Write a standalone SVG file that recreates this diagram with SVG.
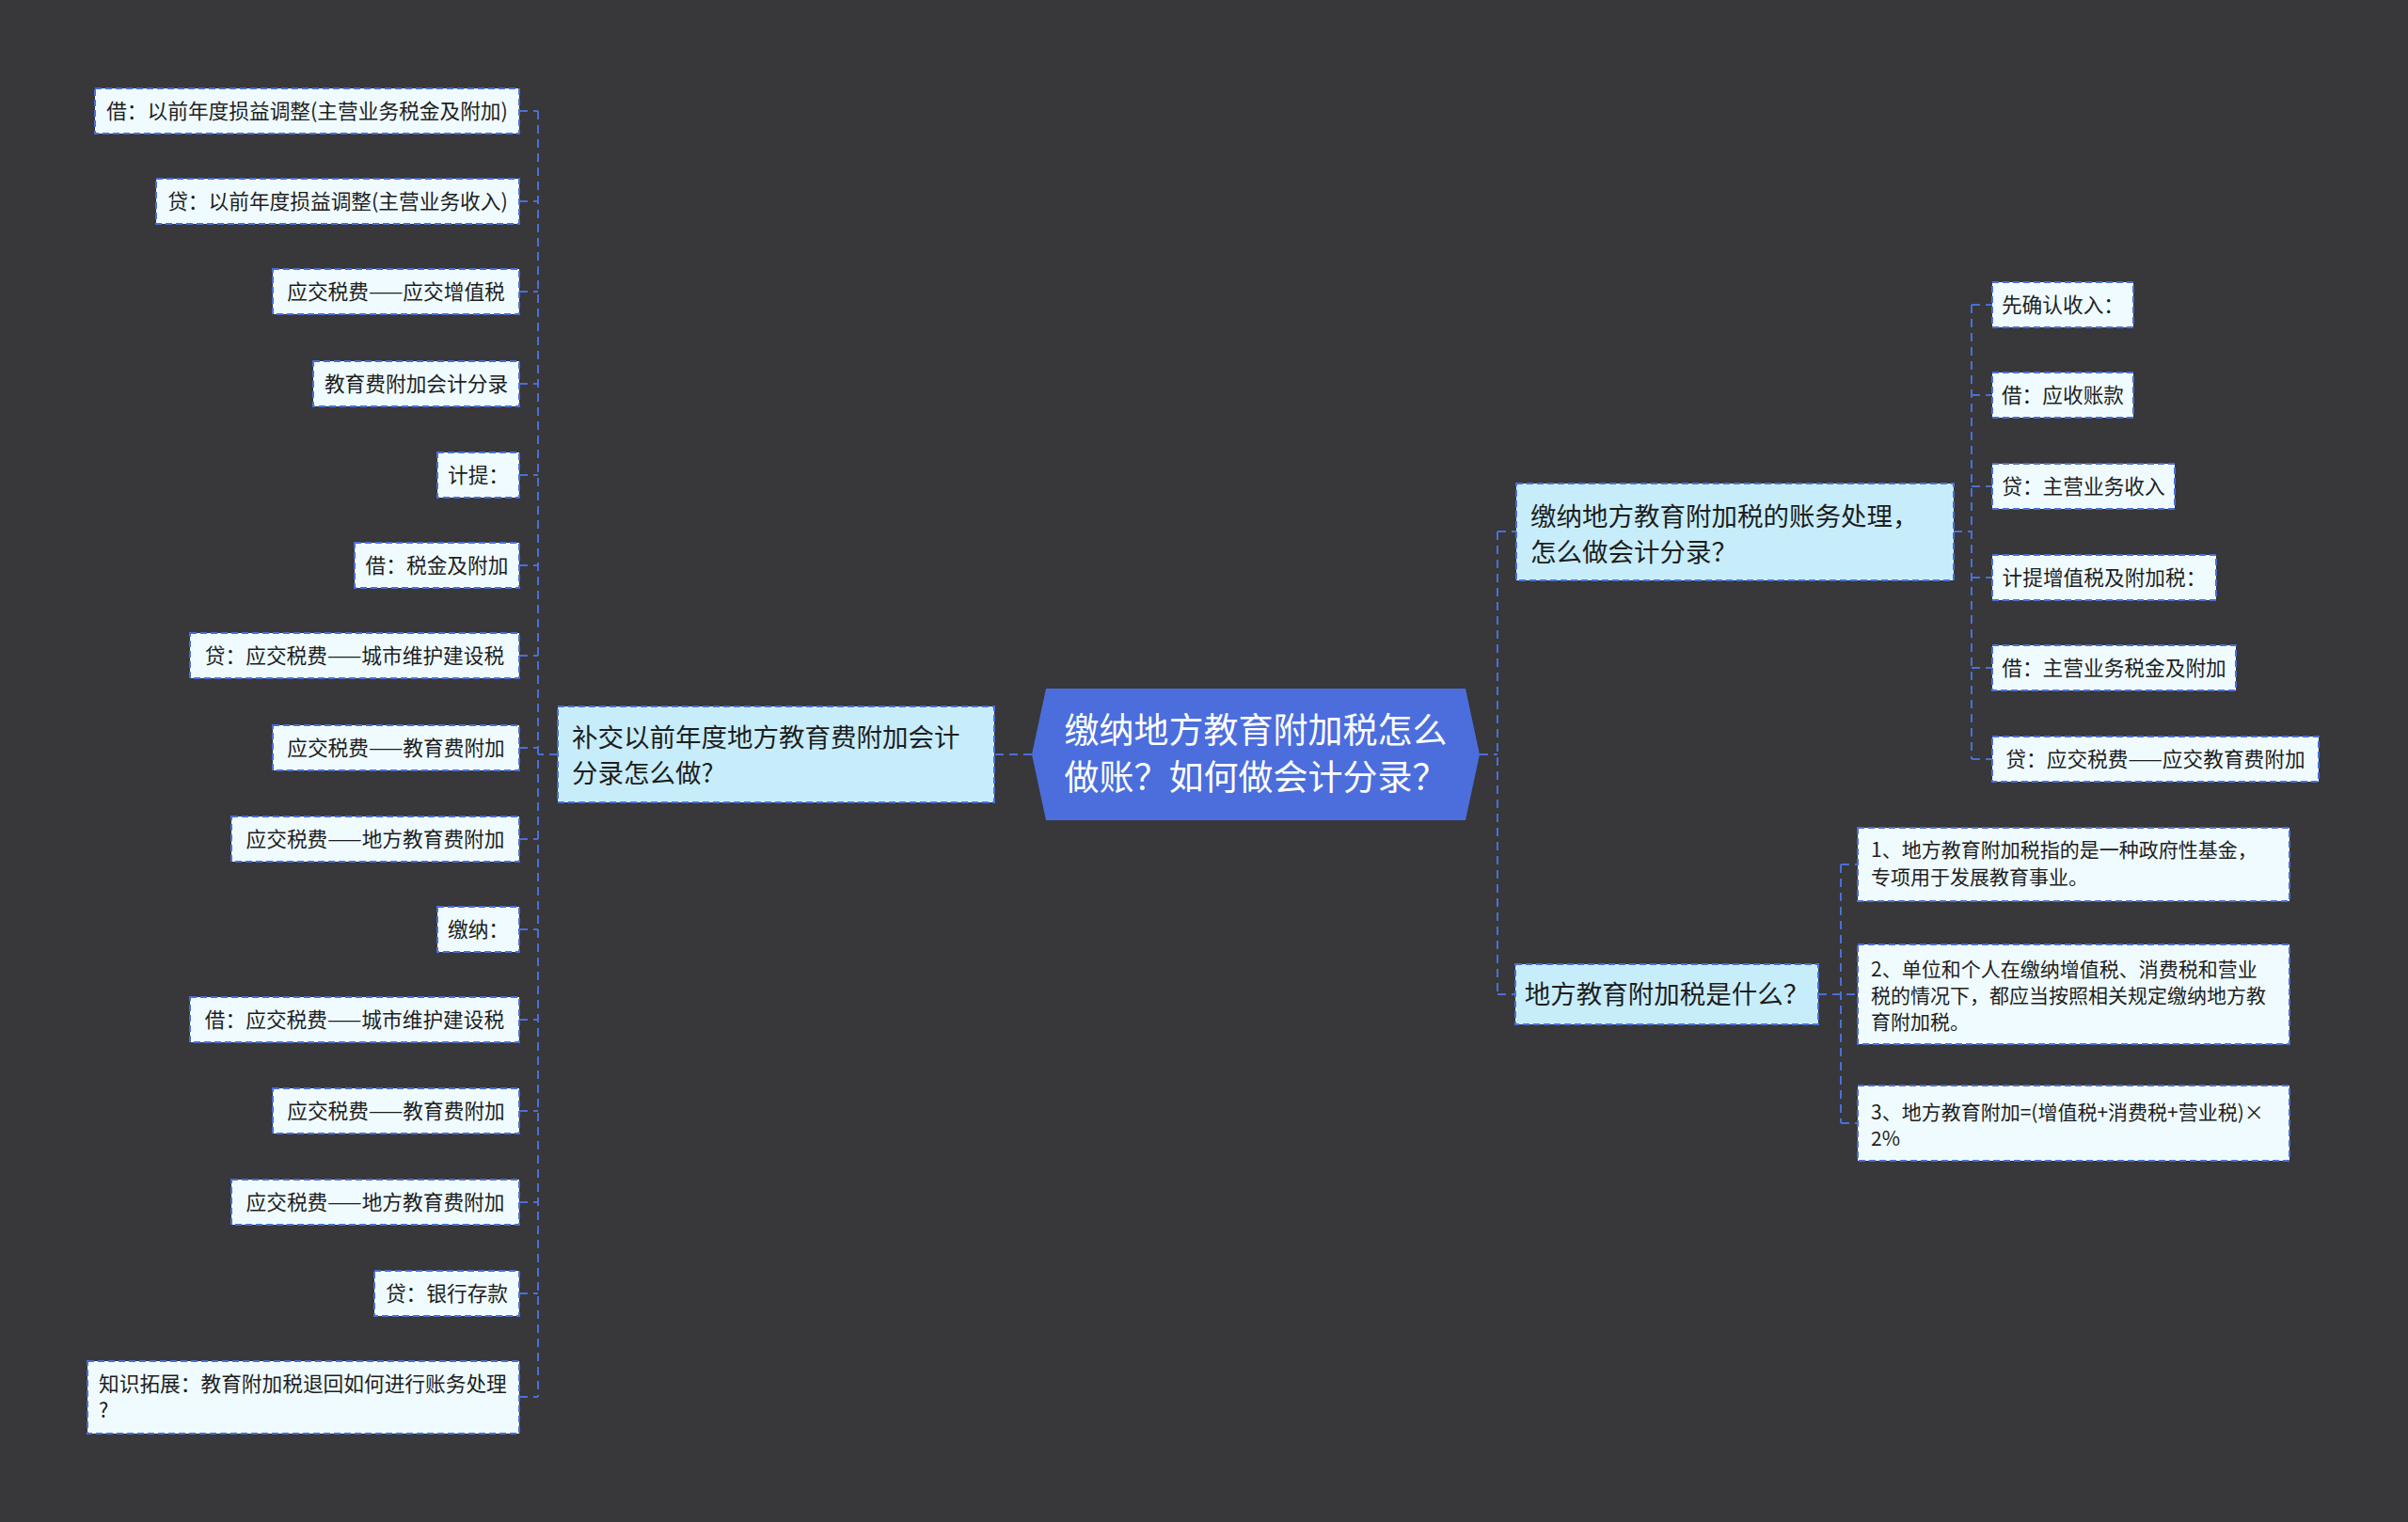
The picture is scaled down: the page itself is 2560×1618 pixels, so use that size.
<svg xmlns="http://www.w3.org/2000/svg" width="2560" height="1618" viewBox="0 0 2560 1618">
<style>
text{font-family:"Noto Sans CJK SC","Liberation Sans",sans-serif;fill:#1e1e1e}
.leaf{fill:#effbfe;stroke:#4a6fd6;stroke-width:2;stroke-dasharray:7,4}
.main{fill:#c7edfb;stroke:#4a6fd6;stroke-width:2;stroke-dasharray:7,4}
.t21{font-size:21.7px}
.t20{font-size:21px}
.t27{font-size:27.5px}
.c{text-anchor:middle}
.conn{fill:none;stroke:#4a6fd6;stroke-width:2;stroke-dasharray:9,6}
</style>
<rect width="2560" height="1618" fill="#38373a"/>
<g id="connectors">
<path class="conn" d="M1097 802 H1057"/>
<path class="conn" d="M593 802 H572 M572 118 V1485"/>
<path class="conn" d="M552 118 H572 M552 214 H572 M552 310 H572 M552 408 H572 M552 505 H572 M552 601 H572 M552 697 H572 M552 795 H572 M552 892 H572 M552 988 H572 M552 1084 H572 M552 1181 H572 M552 1278 H572 M552 1375 H572 M552 1485 H572"/>
<path class="conn" d="M1573 802 H1592 M1592 565 V1057 M1592 565 H1612 M1592 1057 H1611"/>
<path class="conn" d="M2077 565 H2096 M2096 324 V807 M2096 324 H2118 M2096 420 H2118 M2096 517 H2118 M2096 614 H2118 M2096 710 H2118 M2096 807 H2118"/>
<path class="conn" d="M1933 1057 H1975 M1957 919 V1194 M1957 919 H1975 M1957 1194 H1975"/>
</g>
<g id="center">
<polygon points="1112,732 1558,732 1573,802 1558,872 1112,872 1097,802" fill="#4b6edc"/>
<text x="1335" y="790" class="c" style="font-size:37px;fill:#ffffff">缴纳地方教育附加税怎么</text>
<text x="1335" y="840" class="c" style="font-size:37px;fill:#ffffff">做账？如何做会计分录？</text>
</g>
<g id="left-main">
<rect class="main" x="593" y="751" width="464" height="102"/>
<text x="608" y="794" class="t27">补交以前年度地方教育费附加会计</text>
<text x="608" y="832" class="t27">分录怎么做?</text>
</g>
<g id="l1"><rect class="leaf" x="101" y="94" width="451" height="48"/><text x="326.5" y="126" class="t21 c">借：以前年度损益调整(主营业务税金及附加)</text></g>
<g id="l2"><rect class="leaf" x="166" y="190" width="386" height="48"/><text x="359" y="222" class="t21 c">贷：以前年度损益调整(主营业务收入)</text></g>
<g id="l3"><rect class="leaf" x="290" y="286" width="262" height="48"/><text x="421" y="318" class="t21 c">应交税费——应交增值税</text></g>
<g id="l4"><rect class="leaf" x="333" y="384" width="219" height="48"/><text x="442.5" y="416" class="t21 c">教育费附加会计分录</text></g>
<g id="l5"><rect class="leaf" x="465" y="481" width="87" height="48"/><text x="508.5" y="513" class="t21 c">计提：</text></g>
<g id="l6"><rect class="leaf" x="377" y="577" width="175" height="48"/><text x="464.5" y="609" class="t21 c">借：税金及附加</text></g>
<g id="l7"><rect class="leaf" x="202" y="673" width="350" height="48"/><text x="377" y="705" class="t21 c">贷：应交税费——城市维护建设税</text></g>
<g id="l8"><rect class="leaf" x="290" y="771" width="262" height="48"/><text x="421" y="803" class="t21 c">应交税费——教育费附加</text></g>
<g id="l9"><rect class="leaf" x="246" y="868" width="306" height="48"/><text x="399" y="900" class="t21 c">应交税费——地方教育费附加</text></g>
<g id="l10"><rect class="leaf" x="465" y="964" width="87" height="48"/><text x="508.5" y="996" class="t21 c">缴纳：</text></g>
<g id="l11"><rect class="leaf" x="202" y="1060" width="350" height="48"/><text x="377" y="1092" class="t21 c">借：应交税费——城市维护建设税</text></g>
<g id="l12"><rect class="leaf" x="290" y="1157" width="262" height="48"/><text x="421" y="1189" class="t21 c">应交税费——教育费附加</text></g>
<g id="l13"><rect class="leaf" x="246" y="1254" width="306" height="48"/><text x="399" y="1286" class="t21 c">应交税费——地方教育费附加</text></g>
<g id="l14"><rect class="leaf" x="398" y="1351" width="154" height="48"/><text x="475" y="1383" class="t21 c">贷：银行存款</text></g>
<g id="l15"><rect class="leaf" x="93" y="1447" width="459" height="77"/><text x="105" y="1479" class="t21">知识拓展：教育附加税退回如何进行账务处理</text><text x="105" y="1507" class="t21">?</text></g>
<g id="right-main-1">
<rect class="main" x="1612" y="514" width="465" height="103"/>
<text x="1627" y="559" class="t27">缴纳地方教育附加税的账务处理，</text>
<text x="1627" y="597" class="t27">怎么做会计分录？</text>
</g>
<g id="r1"><rect class="leaf" x="2118" y="300" width="150" height="48"/><text x="2193" y="332" class="t21 c">先确认收入：</text></g>
<g id="r2"><rect class="leaf" x="2118" y="396" width="150" height="48"/><text x="2193" y="428" class="t21 c">借：应收账款</text></g>
<g id="r3"><rect class="leaf" x="2118" y="493" width="194" height="48"/><text x="2215" y="525" class="t21 c">贷：主营业务收入</text></g>
<g id="r4"><rect class="leaf" x="2118" y="590" width="238" height="48"/><text x="2237" y="622" class="t21 c">计提增值税及附加税：</text></g>
<g id="r5"><rect class="leaf" x="2118" y="686" width="259" height="48"/><text x="2247.5" y="718" class="t21 c">借：主营业务税金及附加</text></g>
<g id="r6"><rect class="leaf" x="2118" y="783" width="347" height="48"/><text x="2291.5" y="815" class="t21 c">贷：应交税费——应交教育费附加</text></g>
<g id="right-main-2">
<rect class="main" x="1611" y="1025" width="322" height="64"/>
<text x="1772" y="1067" class="t27 c">地方教育附加税是什么？</text>
</g>
<g id="q1"><rect class="leaf" x="1975" y="880" width="459" height="78"/><text x="1989" y="911" class="t20">1、地方教育附加税指的是一种政府性基金，</text><text x="1989" y="940" class="t20">专项用于发展教育事业。</text></g>
<g id="q2"><rect class="leaf" x="1975" y="1004" width="459" height="106"/><text x="1989" y="1038" class="t20">2、单位和个人在缴纳增值税、消费税和营业</text><text x="1989" y="1066" class="t20">税的情况下，都应当按照相关规定缴纳地方教</text><text x="1989" y="1094" class="t20">育附加税。</text></g>
<g id="q3"><rect class="leaf" x="1975" y="1154" width="459" height="80"/><text x="1989" y="1190" class="t20">3、地方教育附加=(增值税+消费税+营业税)×</text><text x="1989" y="1218" class="t20">2%</text></g>
</svg>
